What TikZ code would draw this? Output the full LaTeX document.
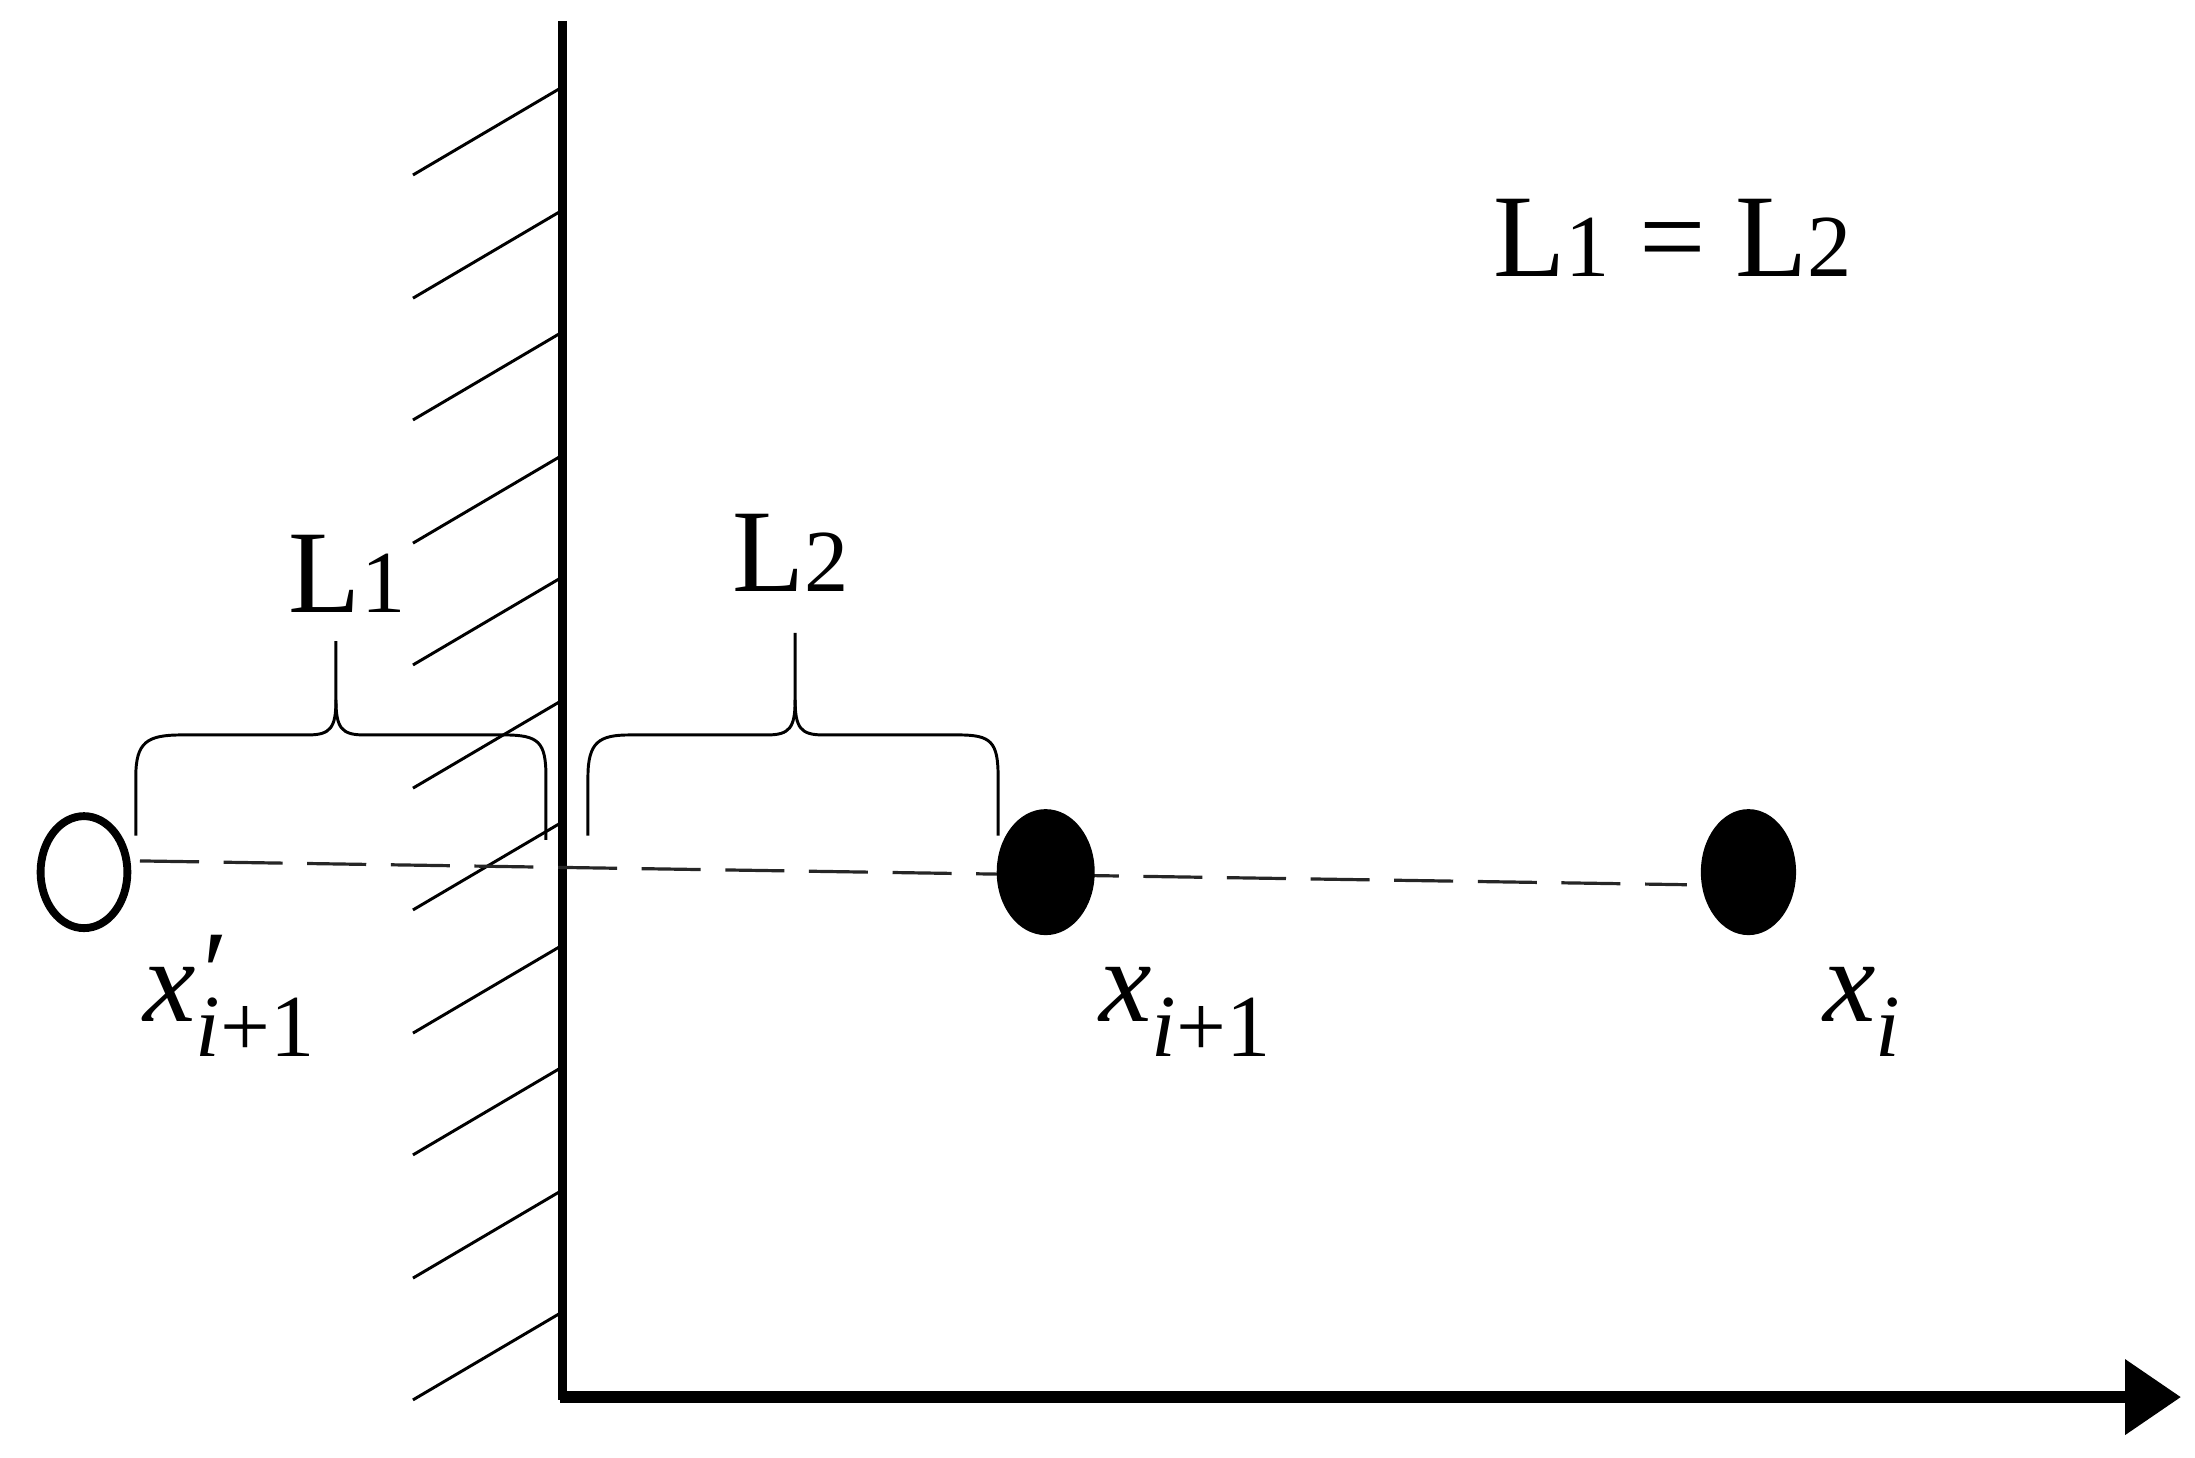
\documentclass[tikz,border=0pt]{standalone}
\usepackage{fontspec}
\setmainfont{Liberation Serif}
\usetikzlibrary{arrows.meta,shapes.geometric}
\newcommand{\sbs}[1]{\raisebox{-14pt}{\fontsize{36}{40}\selectfont #1}}
\begin{document}
\begin{tikzpicture}[x=0.02cm,y=-0.02cm,
  lbl/.style={font=\fontsize{48}{56}\selectfont,inner sep=0pt},
  hatch/.style={line width=1.2pt},
  brc/.style={line width=1.2pt}]
\useasboundingbox (0,0) rectangle (1568,1041);
% wall and axis
\coordinate (w1) at (402,15);
\coordinate (w2) at (402,1000);
\coordinate (a1) at (400,998);
\coordinate (a2) at (1558,998);
\draw[line width=3.8pt] (w1) -- (w2);
\draw[line width=4.8pt,-{Triangle[length=40*0.02cm,width=52*0.02cm]}] (a1) -- (a2);
% hatch
\foreach \y in {62,150,237,325,412,500,587,675,762,850,937}
  \draw[hatch] (295,\y+63) -- (402,\y);
% dashed line
\coordinate (d1) at (100,615);
\coordinate (d2) at (1205,632);
\draw[dash pattern=on 24pt off 10pt,line width=1.3pt,black!85] (d1) -- (d2);
% points
\node[ellipse,draw,line width=3.2pt,minimum width=62*0.02cm,minimum height=80*0.02cm,inner sep=0pt] (p0) at (60,623) {};
\node[ellipse,fill=black,minimum width=70*0.02cm,minimum height=90*0.02cm,inner sep=0pt] (p1) at (747,623) {};
\node[ellipse,fill=black,minimum width=68*0.02cm,minimum height=90*0.02cm,inner sep=0pt] (p2) at (1249,623) {};
% braces
\draw[brc] (97,597) -- (97,555) .. controls (97,530) and (105,525) .. (130,525) -- (220,525)
  .. controls (236,525) and (240,520) .. (240,500) -- (240,458);
\draw[brc] (240,500) .. controls (240,520) and (244,525) .. (260,525) -- (360,525)
  .. controls (385,525) and (390,530) .. (390,555) -- (390,600);
\draw[brc] (420,597) -- (420,555) .. controls (420,530) and (428,525) .. (450,525) -- (548,525)
  .. controls (564,525) and (568,520) .. (568,500) -- (568,452);
\draw[brc] (568,500) .. controls (568,520) and (572,525) .. (588,525) -- (685,525)
  .. controls (708,525) and (713,530) .. (713,555) -- (713,597);
% labels
\node[lbl] (l1) at (248,410) {L{\fontsize{36}{40}\selectfont 1}};
\node[lbl] (l2) at (565,395) {L{\fontsize{36}{40}\selectfont 2}};
\node[lbl] (eq) at (1195,170) {L{\fontsize{36}{40}\selectfont 1} = L{\fontsize{36}{40}\selectfont 2}};
\node[lbl,anchor=base west] (t0) at (102,730) {\textit{x}\rlap{\raisebox{4pt}{\textit{′}}}\sbs{\textit{i}+1}};
\node[lbl,anchor=base west] (t1) at (785,730) {\textit{x}\sbs{\textit{i}+1}};
\node[lbl,anchor=base west] (t2) at (1302,730) {\textit{x}\sbs{\textit{i}}};
\end{tikzpicture}
\end{document}
